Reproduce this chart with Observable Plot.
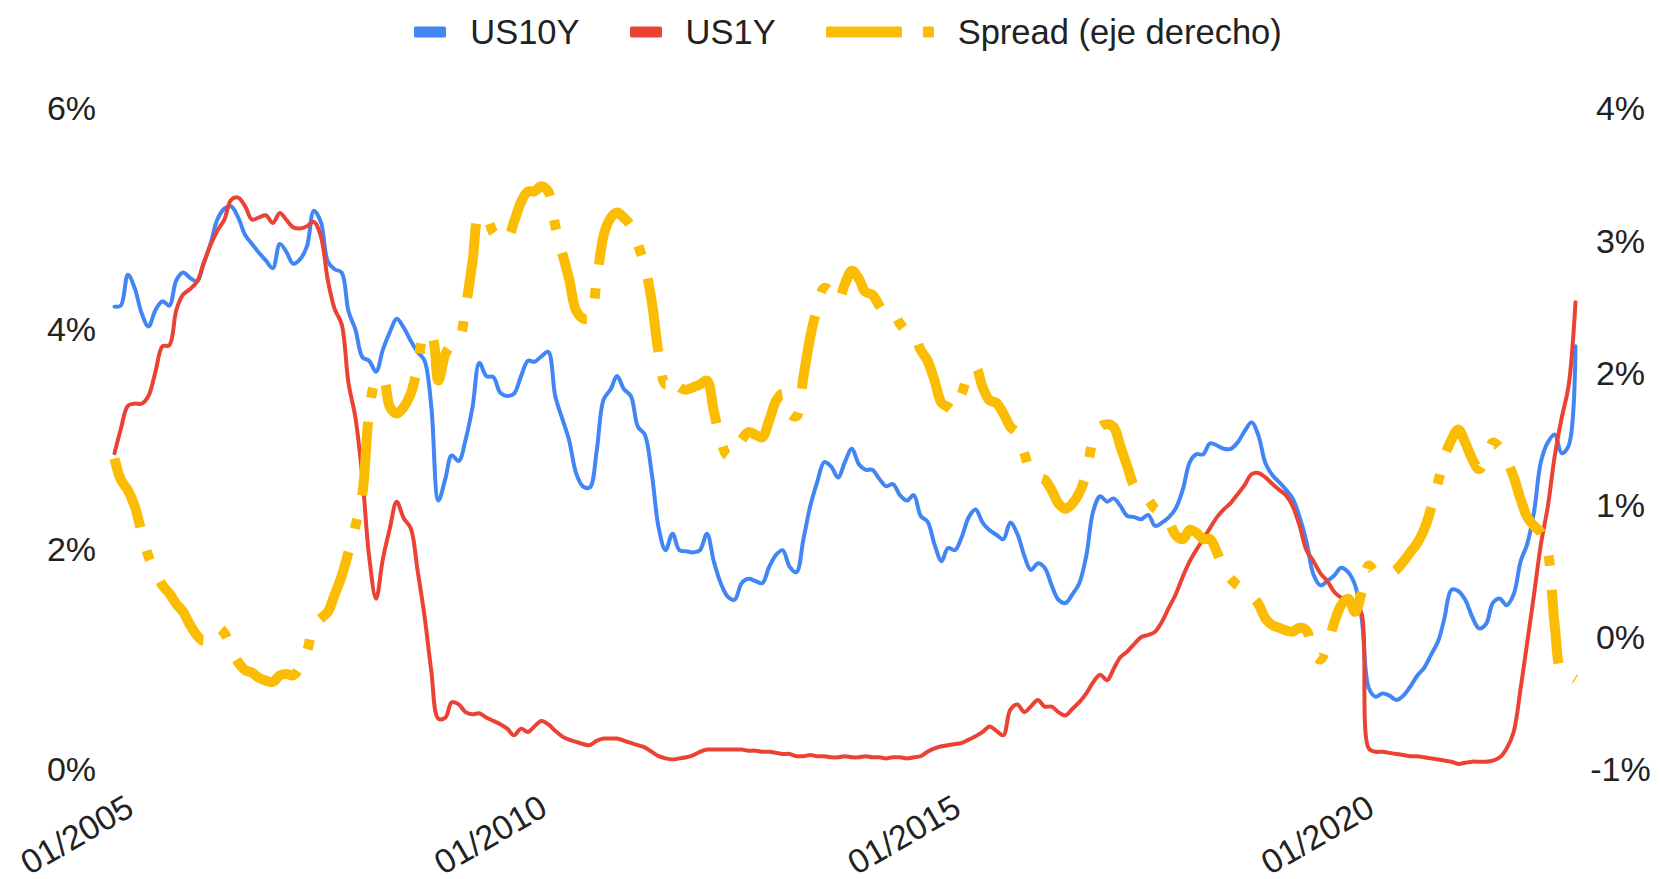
<!DOCTYPE html>
<html>
<head>
<meta charset="utf-8">
<script src="https://cdn.jsdelivr.net/npm/d3@7"></script>
<script src="https://cdn.jsdelivr.net/npm/@observablehq/plot@0.6"></script>
<style>
  html, body { margin: 0; padding: 0; background: #ffffff; }
  body { width: 1660px; height: 879px; overflow: hidden; font-family: "Liberation Sans", Arial, sans-serif; color: #222; }
  #legend { position: relative; height: 64px; display: flex; align-items: center; justify-content: center; font-size: 34.5px; padding-left: 36px; }
  .item { display: flex; align-items: center; }
  .item svg { display: block; margin-right: 24px; }
  .gap { width: 50px; }
</style>
</head>
<body>
<div id="legend"></div>
<div id="chart"></div>
<script>
// ---------------- data (monthly, first value = Feb 2005) ----------------
const firstMonth = "2005-02";

const us10y = [
  4.21, 4.22, 4.50, 4.38, 4.15, 4.03, 4.18, 4.26, 4.22, 4.45, 4.52,              // 2005 Feb-Dec
  4.47, 4.44, 4.60, 4.78, 5.00, 5.10, 5.12, 5.02, 4.86, 4.78, 4.70, 4.63,        // 2006
  4.56, 4.78, 4.71, 4.60, 4.64, 4.76, 5.08, 4.98, 4.62, 4.55, 4.52, 4.17,        // 2007
  4.00, 3.75, 3.72, 3.62, 3.82, 3.98, 4.10, 4.02, 3.90, 3.80, 3.72, 3.30,        // 2008
  2.45, 2.65, 2.86, 2.81, 3.00, 3.30, 3.70, 3.58, 3.57, 3.43, 3.40, 3.42,        // 2009
  3.58, 3.72, 3.71, 3.76, 3.80, 3.40, 3.20, 3.00, 2.70, 2.58, 2.57, 2.90,        // 2010
  3.37, 3.46, 3.58, 3.46, 3.40, 3.12, 3.05, 2.70, 2.20, 2.00, 2.15, 2.00,        // 2011
  1.99, 1.98, 2.00, 2.15, 1.90, 1.70, 1.58, 1.55, 1.70, 1.74, 1.72, 1.70,        // 2012
  1.85, 1.96, 2.00, 1.85, 1.80, 2.10, 2.40, 2.62, 2.80, 2.76, 2.66, 2.80,        // 2013
  2.92, 2.78, 2.73, 2.73, 2.65, 2.58, 2.60, 2.50, 2.45, 2.50, 2.31, 2.26,        // 2014
  2.05, 1.90, 2.02, 2.00, 2.12, 2.30, 2.37, 2.25, 2.18, 2.14, 2.10, 2.25,        // 2015
  2.15, 1.95, 1.82, 1.88, 1.84, 1.68, 1.55, 1.52, 1.60, 1.70, 1.95, 2.35,        // 2016
  2.49, 2.44, 2.47, 2.40, 2.31, 2.30, 2.28, 2.32, 2.22, 2.25, 2.30, 2.38,        // 2017
  2.55, 2.80, 2.87, 2.87, 2.97, 2.95, 2.92, 2.92, 2.98, 3.08, 3.16, 3.04,        // 2018
  2.79, 2.68, 2.62, 2.55, 2.47, 2.30, 2.08, 1.78, 1.68, 1.72, 1.77, 1.84,        // 2019
  1.80, 1.68, 1.38, 0.75, 0.67, 0.70, 0.68, 0.64, 0.68, 0.76, 0.86, 0.93,        // 2020
  1.05, 1.17, 1.38, 1.64, 1.63, 1.55, 1.40, 1.29, 1.33, 1.52, 1.56, 1.50,        // 2021
  1.60, 1.90, 2.05, 2.35, 2.80, 2.98, 3.05, 2.88, 2.95, 3.85                     // 2022 Jan-Oct
];

const us1y = [
  2.88, 3.10, 3.31, 3.33, 3.33, 3.40, 3.62, 3.85, 3.86, 4.18, 4.32,              // 2005
  4.37, 4.44, 4.60, 4.77, 4.90, 5.00, 5.18, 5.20, 5.12, 5.00, 5.02, 5.04,        // 2006
  4.97, 5.06, 5.00, 4.93, 4.92, 4.94, 4.98, 4.85, 4.45, 4.19, 4.05, 3.52,        // 2007
  3.20, 2.65, 1.95, 1.56, 1.92, 2.20, 2.44, 2.29, 2.20, 1.82, 1.40, 0.90,        // 2008
  0.47, 0.48, 0.62, 0.60, 0.53, 0.51, 0.52, 0.48, 0.45, 0.42, 0.38, 0.32,        // 2009
  0.38, 0.35, 0.40, 0.45, 0.42, 0.36, 0.31, 0.28, 0.26, 0.24, 0.23, 0.27,        // 2010
  0.29, 0.29, 0.29, 0.27, 0.25, 0.23, 0.21, 0.17, 0.13, 0.11, 0.10, 0.11,        // 2011
  0.12, 0.14, 0.17, 0.19, 0.19, 0.19, 0.19, 0.19, 0.19, 0.18, 0.18, 0.17,        // 2012
  0.17, 0.16, 0.15, 0.15, 0.13, 0.13, 0.14, 0.13, 0.13, 0.12, 0.12, 0.13,        // 2013
  0.12, 0.12, 0.13, 0.12, 0.12, 0.11, 0.12, 0.12, 0.11, 0.12, 0.13, 0.17,        // 2014
  0.20, 0.22, 0.23, 0.24, 0.25, 0.28, 0.31, 0.35, 0.40, 0.36, 0.32, 0.55,        // 2015
  0.60, 0.53, 0.58, 0.64, 0.58, 0.58, 0.53, 0.50, 0.56, 0.62, 0.70, 0.80,        // 2016
  0.87, 0.82, 0.92, 1.03, 1.08, 1.15, 1.21, 1.23, 1.26, 1.35, 1.48, 1.60,        // 2017
  1.76, 1.90, 2.00, 2.10, 2.20, 2.30, 2.37, 2.43, 2.51, 2.59, 2.69, 2.70,        // 2018
  2.66, 2.60, 2.55, 2.50, 2.40, 2.22, 2.00, 1.90, 1.79, 1.72, 1.62, 1.57,        // 2019
  1.55, 1.52, 1.42, 0.20, 0.17, 0.17, 0.16, 0.15, 0.14, 0.13, 0.13, 0.12,        // 2020
  0.11, 0.10, 0.09, 0.08, 0.06, 0.07, 0.08, 0.08, 0.08, 0.09, 0.12, 0.20,        // 2021
  0.35, 0.75, 1.15, 1.60, 2.05, 2.40, 2.85, 3.20, 3.50, 4.25                     // 2022
];

// spread read against the right-hand axis
const spread = [
  1.36, 1.20, 1.12, 1.00, 0.80, 0.62, 0.50, 0.40, 0.34, 0.26, 0.20,              // 2005
  0.10, 0.02, -0.02, 0.02, 0.08, 0.04, -0.08, -0.18, -0.24, -0.26, -0.30, -0.32, // 2006
  -0.33, -0.28, -0.27, -0.28, -0.22, -0.10, 0.10, 0.15, 0.20, 0.33, 0.47, 0.65,  // 2007
  0.85, 1.10, 1.70, 1.95, 1.97, 1.75, 1.70, 1.75, 1.85, 2.05, 2.30, 2.30,        // 2008
  1.95, 2.15, 2.22, 2.25, 2.50, 2.85, 3.20, 3.18, 3.07, 3.02, 3.02, 3.15,        // 2009
  3.30, 3.38, 3.38, 3.42, 3.38, 3.12, 2.92, 2.72, 2.48, 2.42, 2.42, 2.70,        // 2010
  3.05, 3.18, 3.22, 3.18, 3.12, 2.98, 2.82, 2.55, 2.15, 1.92, 1.98, 1.90,        // 2011
  1.88, 1.90, 1.92, 1.95, 1.72, 1.50, 1.38, 1.40, 1.50, 1.56, 1.54, 1.52,        // 2012
  1.65, 1.80, 1.85, 1.70, 1.68, 1.98, 2.28, 2.50, 2.65, 2.62, 2.55, 2.68,        // 2013
  2.78, 2.72, 2.62, 2.60, 2.52, 2.45, 2.46, 2.38, 2.32, 2.30, 2.18, 2.10,        // 2014
  1.95, 1.78, 1.75, 1.72, 1.85, 2.00, 2.05, 1.90, 1.80, 1.78, 1.70, 1.60,        // 2015
  1.55, 1.40, 1.26, 1.22, 1.20, 1.12, 1.02, 0.98, 1.02, 1.10, 1.25, 1.50,        // 2016
  1.60, 1.62, 1.60, 1.45, 1.30, 1.15, 1.10, 1.05, 0.98, 0.95, 0.88, 0.78,        // 2017
  0.75, 0.82, 0.80, 0.75, 0.75, 0.65, 0.52, 0.45, 0.40, 0.38, 0.32, 0.26,        // 2018
  0.15, 0.10, 0.08, 0.06, 0.05, 0.08, 0.06, -0.12, -0.16, -0.05, 0.12, 0.25,     // 2019
  0.30, 0.20, 0.35, 0.55, 0.50, 0.50, 0.49, 0.52, 0.58, 0.65, 0.72, 0.82,        // 2020
  0.98, 1.18, 1.37, 1.50, 1.58, 1.48, 1.36, 1.28, 1.36, 1.48, 1.44, 1.35,        // 2021
  1.22, 1.05, 0.92, 0.85, 0.80, 0.65, 0.10, -0.26, -0.28, -0.31                  // 2022
];

const leftTicks = [0, 2, 4, 6];          // left axis, %
const rightTicks = [-1, 0, 1, 2, 3, 4];  // right axis, %
const xTickLabels = ["01/2005", "01/2010", "01/2015", "01/2020"];

const seriesNames = ["US10Y", "US1Y", "Spread (eje derecho)"];
const colors = ["#4285F4", "#EA4335", "#FBBC04"];

// ---------------- build table ----------------
const parseMonth = d3.utcParse("%Y-%m");
const parseTick = d3.utcParse("%m/%Y");
const start = parseMonth(firstMonth);
const dates = us10y.map((_, i) => d3.utcMonth.offset(start, i));
const data = dates.map((date, i) => ({date, us10y: us10y[i], us1y: us1y[i], spread: spread[i]}));
const xTicks = xTickLabels.map(parseTick);

const leftMin = leftTicks[0], leftMax = leftTicks[leftTicks.length - 1];
const rightMin = rightTicks[0], rightMax = rightTicks[rightTicks.length - 1];
// map right-axis values onto the shared (left) y scale
const toLeft = v => leftMin + (v - rightMin) / (rightMax - rightMin) * (leftMax - leftMin);
const fromLeft = v => rightMin + (v - leftMin) / (leftMax - leftMin) * (rightMax - rightMin);

const FONT = `"Liberation Sans", Arial, sans-serif`;
const FS = 34;

// ---------------- legend ----------------
const legend = document.getElementById("legend");
function swatch(color, dashed) {
  const w = dashed ? 108 : 32;
  const svg = d3.create("svg").attr("width", w).attr("height", 12);
  if (dashed) {
    svg.append("rect").attr("x", 0).attr("y", 0.5).attr("width", 76).attr("height", 11).attr("rx", 1.5).attr("fill", color);
    svg.append("rect").attr("x", 97).attr("y", 0.5).attr("width", 11).attr("height", 11).attr("rx", 1.5).attr("fill", color);
  } else {
    svg.append("rect").attr("x", 0).attr("y", 0.5).attr("width", 32).attr("height", 11).attr("rx", 1.5).attr("fill", color);
  }
  return svg.node();
}
seriesNames.forEach((name, i) => {
  if (i > 0) { const g = document.createElement("div"); g.className = "gap"; legend.appendChild(g); }
  const item = document.createElement("div");
  item.className = "item";
  item.appendChild(swatch(colors[i], i === 2));
  const t = document.createElement("span");
  t.textContent = name;
  item.appendChild(t);
  legend.appendChild(item);
});

// ---------------- chart ----------------
const chart = Plot.plot({
  width: 1660,
  height: 815,
  marginTop: 45,
  marginBottom: 109,
  marginLeft: 114,
  marginRight: 85,
  style: {fontFamily: FONT, fontSize: FS + "px", color: "#222", background: "#ffffff", overflow: "visible"},
  x: {type: "utc", domain: [dates[0], dates[dates.length - 1]], axis: null},
  y: {domain: [leftMin, leftMax]},
  marks: [
    Plot.axisY({anchor: "left", ticks: leftTicks, tickSize: 0, tickPadding: 0, textAnchor: "middle", dx: -43,
      tickFormat: d => d + "%", label: null, fontSize: FS, fill: "#222"}),
    Plot.axisY({anchor: "right", ticks: rightTicks.map(toLeft), tickSize: 0, tickPadding: 0, textAnchor: "middle", dx: 45,
      tickFormat: d => Math.round(fromLeft(d)) + "%", label: null, fontSize: FS, fill: "#222"}),
    Plot.text(xTicks, {x: d => d, text: (d, i) => xTickLabels[i], frameAnchor: "bottom", rotate: -30,
      textAnchor: "end", lineAnchor: "middle", dx: 23, dy: 34, fontSize: FS, fill: "#222"}),
    Plot.lineY(data, {x: "date", y: "us10y", stroke: colors[0], strokeWidth: 4, curve: "catmull-rom"}),
    Plot.lineY(data, {x: "date", y: "us1y", stroke: colors[1], strokeWidth: 4, curve: "catmull-rom"}),
    Plot.lineY(data, {x: "date", y: d => toLeft(d.spread), stroke: colors[2], strokeWidth: 10,
      strokeDasharray: "74,24,10,24", strokeLinecap: "butt", curve: "catmull-rom"})
  ]
});
document.getElementById("chart").appendChild(chart);
</script>
</body>
</html>
